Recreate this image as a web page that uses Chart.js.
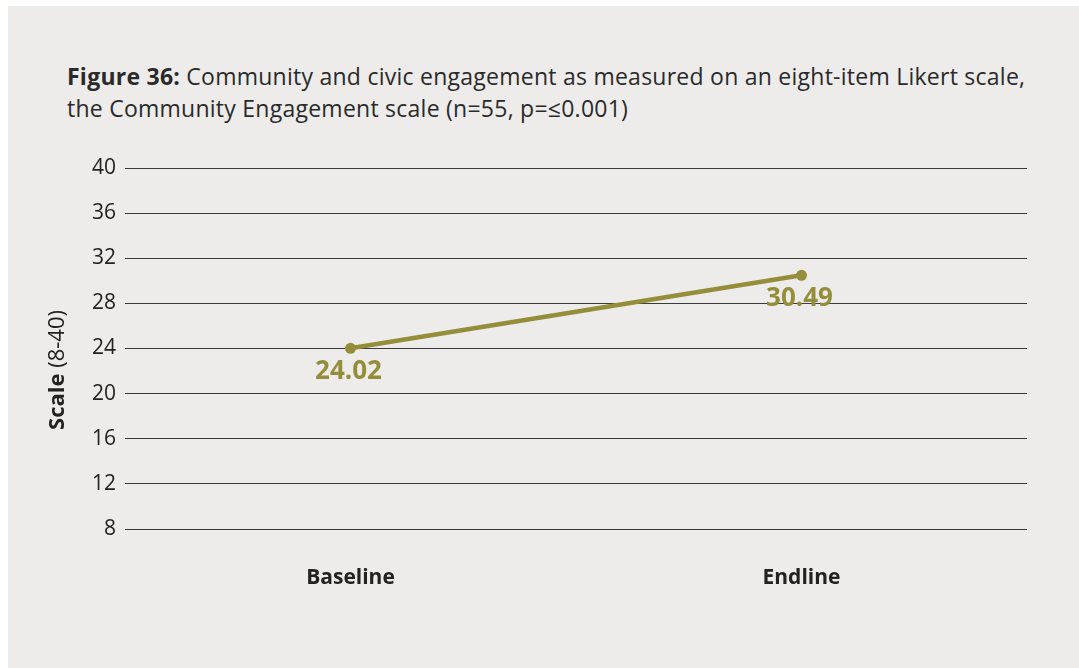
<!DOCTYPE html>
<html>
<head>
<meta charset="utf-8">
<script src="https://cdn.jsdelivr.net/npm/chart.js@4/dist/chart.umd.min.js"></script>
<style>
  html, body { margin: 0; padding: 0; background: #ffffff; width: 1079px; height: 668px; overflow: hidden; }
  #panel { position: absolute; left: 8px; top: 6px; right: 0; bottom: 0; background: #edecea; }
  #title { position: absolute; left: 67px; top: 60px; font-family: "Open Sans", sans-serif; font-size: 23px; letter-spacing: 0.25px; line-height: 32px; color: #2a2a2a; white-space: nowrap; }
  #title b { font-weight: 700; }
  #wrap { position: absolute; left: 0; top: 0; width: 1079px; height: 668px; }
</style>
</head>
<body>
<div id="panel"></div>
<div id="title"><b>Figure 36:</b> Community and civic engagement as measured on an eight-item Likert scale,<br>the Community Engagement scale (n=55, p=≤0.001)</div>
<div id="wrap"><canvas id="c" width="1079" height="668"></canvas></div>
<script>
const categories = ["Baseline", "Endline"];
const scaleValues = [24.02, 30.49];
const valueLabels = ["24.02", "30.49"];
const yTicks = [8, 12, 16, 20, 24, 28, 32, 36, 40];

const OLIVE = "#948e3a";
const FONT = "'Open Sans', sans-serif";

const extras = {
  id: "extras",
  afterDatasetsDraw(chart) {
    const ctx = chart.ctx;
    const meta = chart.getDatasetMeta(0);
    ctx.save();
    ctx.fillStyle = OLIVE;
    ctx.font = "700 26px " + FONT;
    ctx.textAlign = "center";
    ctx.textBaseline = "middle";
    meta.data.forEach((pt, i) => {
      ctx.fillText(valueLabels[i], pt.x - 2, pt.y + 23);
    });
    ctx.restore();
    // y axis title with mixed weight
    ctx.save();
    ctx.translate(58, 370);
    ctx.rotate(-Math.PI / 2);
    ctx.fillStyle = "#222";
    ctx.textBaseline = "middle";
    const a = "Scale";
    ctx.font = "700 22px " + FONT;
    const wa = ctx.measureText(a).width;
    ctx.font = "400 22px " + FONT;
    const b = " (8-40)";
    const wb = ctx.measureText(b).width;
    const start = -(wa + wb) / 2;
    ctx.textAlign = "left";
    ctx.font = "700 22px " + FONT;
    ctx.fillText(a, start, 0);
    ctx.font = "400 22px " + FONT;
    ctx.fillText(b, start + wa, 0);
    ctx.restore();
  }
};

new Chart(document.getElementById("c"), {
  type: "line",
  data: {
    labels: categories,
    datasets: [{
      data: scaleValues,
      borderColor: OLIVE,
      backgroundColor: OLIVE,
      borderWidth: 4.5,
      pointRadius: 5.5,
      pointBackgroundColor: OLIVE,
      pointBorderWidth: 0,
      tension: 0
    }]
  },
  options: {
    responsive: false,
    animation: false,
    devicePixelRatio: 1,
    layout: { padding: { top: 168, right: 52, bottom: 59, left: 0 } },
    plugins: { legend: { display: false }, tooltip: { enabled: false }, title: { display: false } },
    scales: {
      x: {
        offset: true,
        grid: { display: false, drawTicks: false },
        border: { display: false },
        ticks: { color: "#222", font: { family: FONT, size: 21, weight: "700" }, padding: 36 },
        afterFit(s) { s.height = 80; }
      },
      y: {
        min: 8, max: 40,
        afterBuildTicks(s) { s.ticks = yTicks.map(v => ({ value: v })); },
        grid: { color: "#3a3a3a", lineWidth: 1, drawTicks: false },
        border: { display: false },
        ticks: { color: "#222", font: { family: FONT, size: 21 }, padding: 9 },
        afterFit(s) { s.width = 125; }
      }
    }
  },
  plugins: [extras]
});
</script>
</body>
</html>
